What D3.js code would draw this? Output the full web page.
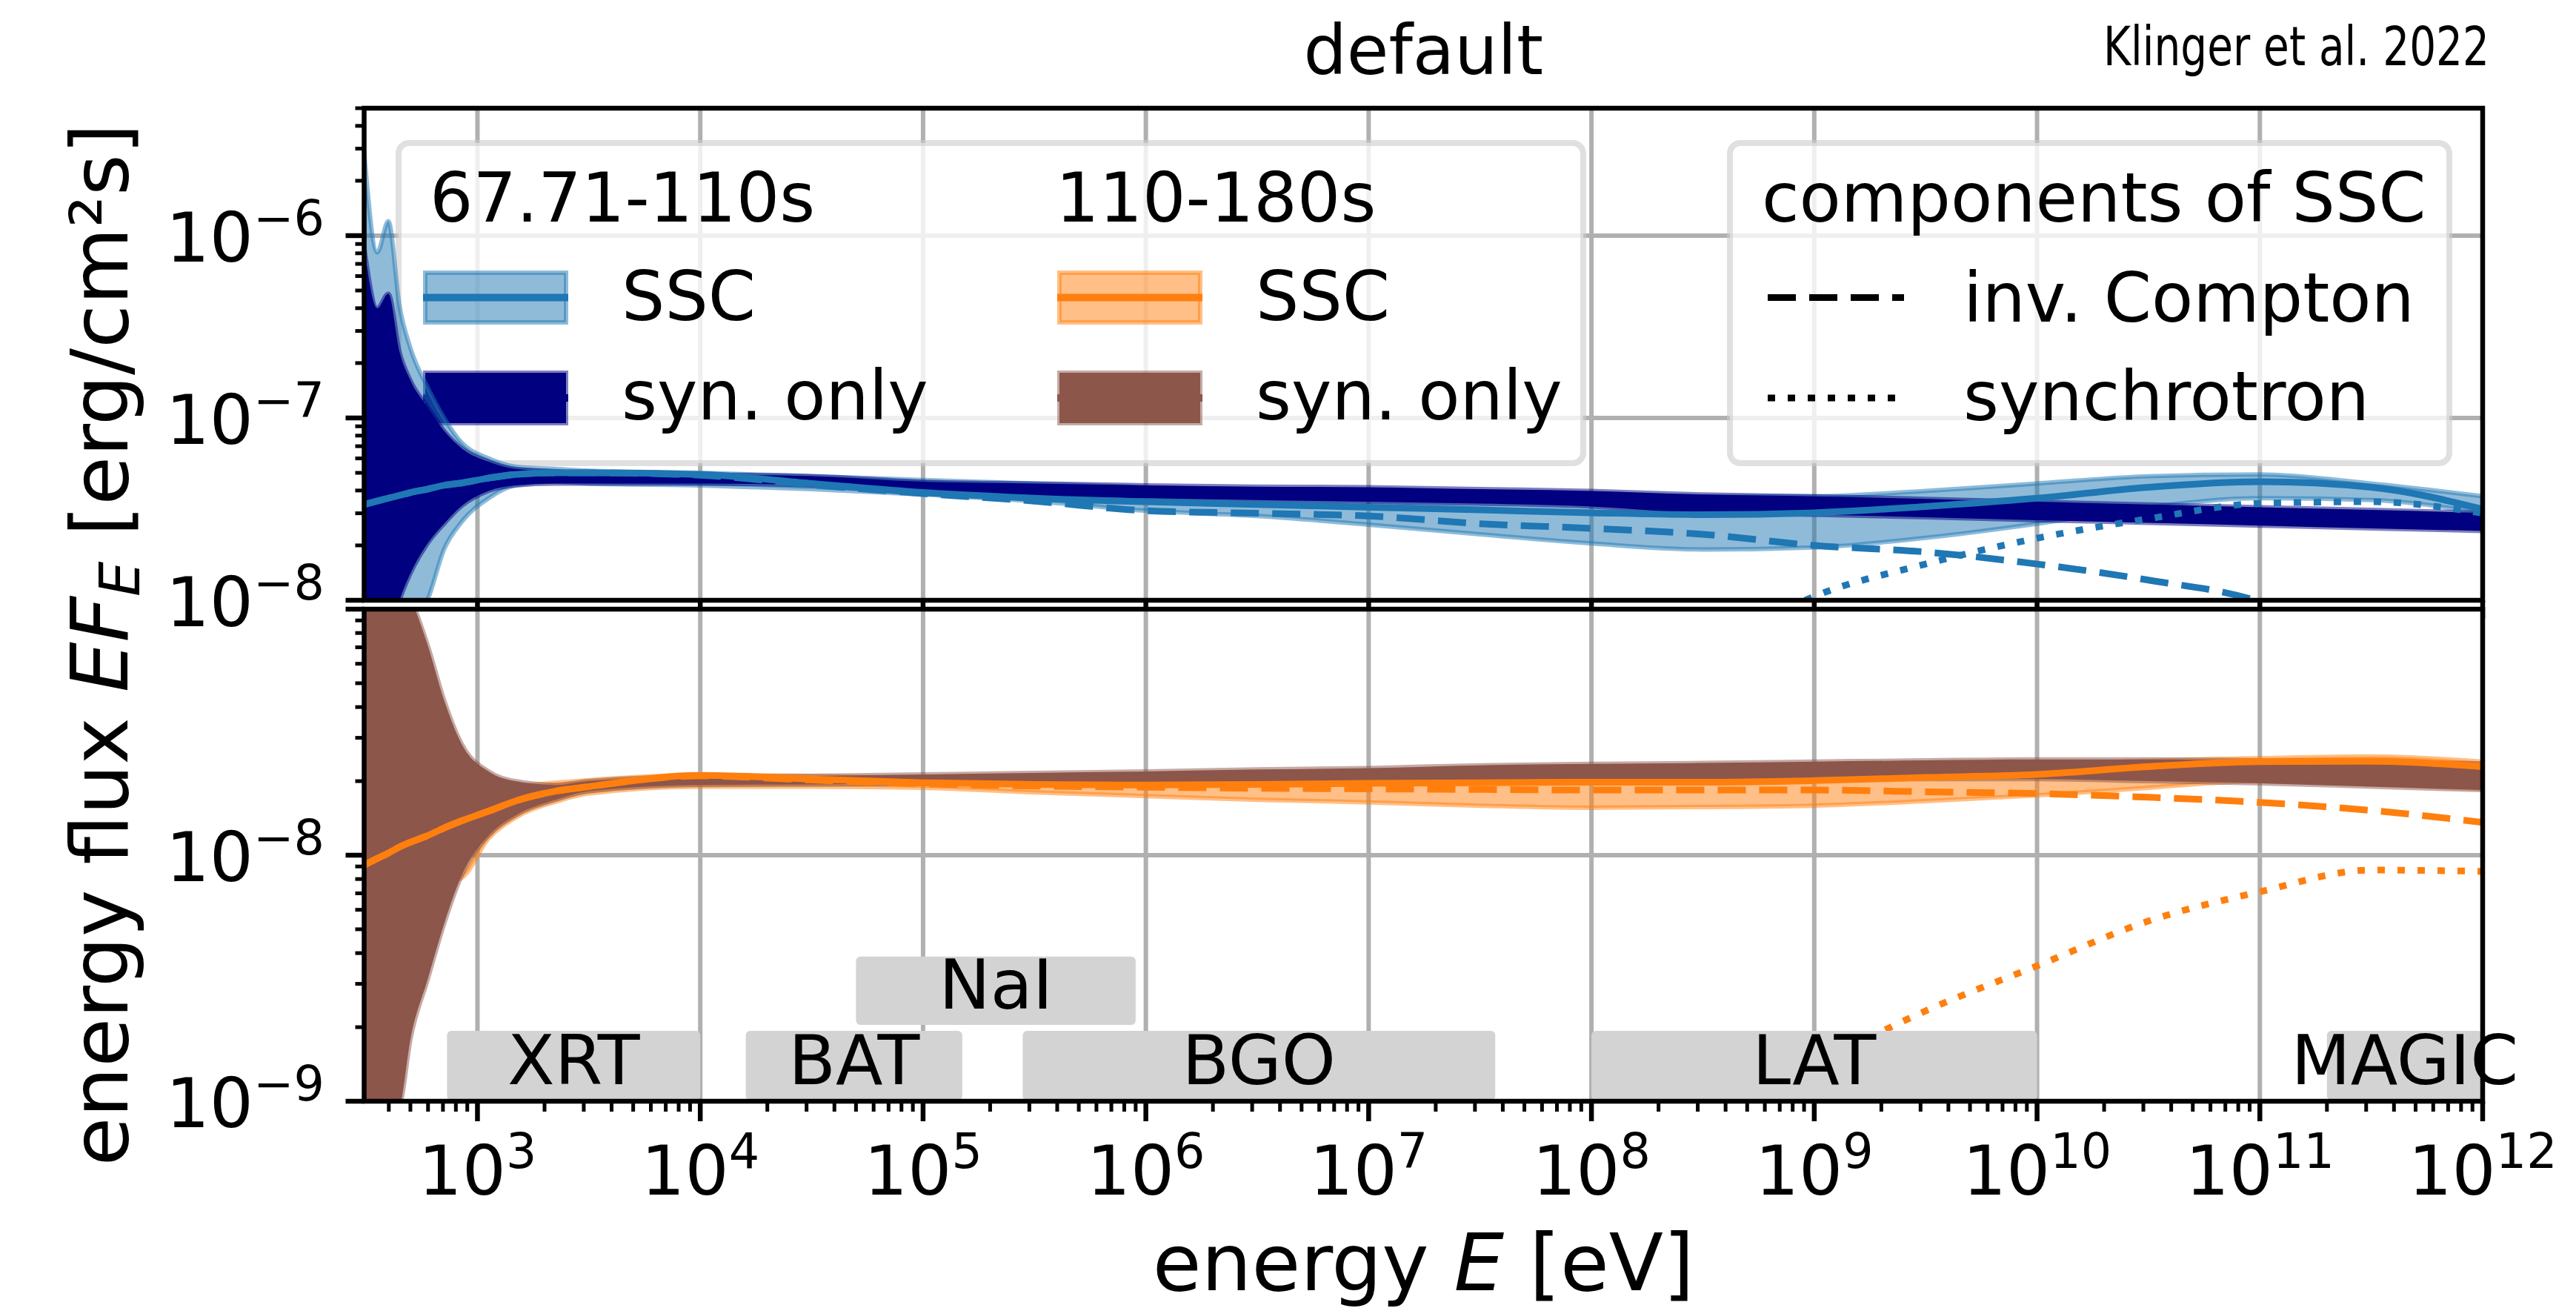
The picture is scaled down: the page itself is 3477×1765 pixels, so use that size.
<!DOCTYPE html>
<html>
<head>
<meta charset="utf-8">
<title>SSC vs synchrotron-only</title>
<script src="https://cdn.jsdelivr.net/npm/d3@7/dist/d3.min.js"></script>
<style>
    body { margin: 0; background: #fff; }
    svg { display: block; font-family: "DejaVu Sans", sans-serif; }
</style>
</head>
<body>
<svg id="chart" width="3477" height="1765"></svg>
<script>
"use strict";

// photon energy grid [eV]
const energy = [310, 355, 398, 447, 501, 596, 708, 851, 1122, 1479, 2239, 3162,
    1e4, 3.16e4, 1e5, 3.16e5, 1e6, 3.16e6, 1e7, 3.16e7, 1e8, 3.16e8,
    1e9, 3.16e9, 1e10, 3.16e10, 1e11, 3.16e11, 1e12];

// 67.71-110s, energy flux [erg/cm^2 s]
const sscA_hi = [2.85e-6, 8.1e-7, 1.2e-6, 4.1e-7, 2.4e-7, 1.48e-7, 1.0e-7, 7.3e-8, 6.0e-8, 5.4e-8, 5.25e-8, 5.13e-8,
    5.0e-8, 4.79e-8, 4.57e-8, 4.37e-8, 4.17e-8, 4.07e-8, 3.98e-8, 3.89e-8, 3.8e-8, 3.72e-8,
    3.72e-8, 3.98e-8, 4.37e-8, 4.79e-8, 4.9e-8, 4.37e-8, 3.72e-8];
const sscA_med = [3.35e-8, 3.5e-8, 3.63e-8, 3.76e-8, 3.9e-8, 4.07e-8, 4.27e-8, 4.4e-8, 4.68e-8, 4.9e-8, 5.0e-8, 5.0e-8,
    4.9e-8, 4.37e-8, 3.9e-8, 3.63e-8, 3.47e-8, 3.35e-8, 3.24e-8, 3.13e-8, 3.02e-8, 2.95e-8,
    3.02e-8, 3.27e-8, 3.63e-8, 4.17e-8, 4.47e-8, 4.17e-8, 3.16e-8];
const sscA_lo = [2e-9, 3e-9, 4e-9, 5.5e-9, 7.5e-9, 1.0e-8, 1.9e-8, 2.7e-8, 3.63e-8, 4.27e-8, 4.47e-8, 4.37e-8,
    4.27e-8, 4.07e-8, 3.8e-8, 3.5e-8, 3.1e-8, 2.9e-8, 2.6e-8, 2.3e-8, 2.05e-8, 1.9e-8,
    1.95e-8, 2.2e-8, 2.63e-8, 3.24e-8, 3.63e-8, 3.55e-8, 3.0e-8];
const synA_hi = [8.7e-7, 4.0e-7, 4.8e-7, 2.3e-7, 1.6e-7, 1.15e-7, 8.5e-8, 6.8e-8, 5.75e-8, 5.25e-8, 5.1e-8, 5.0e-8,
    4.9e-8, 4.8e-8, 4.47e-8, 4.37e-8, 4.27e-8, 4.2e-8, 4.17e-8, 4.07e-8, 3.98e-8, 3.8e-8,
    3.72e-8, 3.6e-8, 3.47e-8, 3.35e-8, 3.24e-8, 3.13e-8, 3.02e-8];
const synA_lo = [3e-9, 4e-9, 6e-9, 1.0e-8, 1.41e-8, 2.04e-8, 2.63e-8, 3.3e-8, 3.98e-8, 4.27e-8, 4.37e-8, 4.37e-8,
    4.37e-8, 4.27e-8, 3.85e-8, 3.72e-8, 3.63e-8, 3.55e-8, 3.47e-8, 3.39e-8, 3.27e-8, 3.0e-8,
    2.95e-8, 2.85e-8, 2.75e-8, 2.66e-8, 2.57e-8, 2.48e-8, 2.4e-8];
const icA = [3.35e-8, 3.5e-8, 3.63e-8, 3.76e-8, 3.9e-8, 4.07e-8, 4.27e-8, 4.4e-8, 4.68e-8, 4.9e-8, 5.0e-8, 5.0e-8,
    4.85e-8, 4.3e-8, 3.85e-8, 3.5e-8, 3.1e-8, 3.0e-8, 2.9e-8, 2.63e-8, 2.48e-8, 2.3e-8,
    2.0e-8, 1.84e-8, 1.58e-8, 1.29e-8, 9.8e-9, 5e-9, 2e-9];
const synchA = [null, null, null, null, null, null, null, null, null, null, null, null,
    null, null, null, null, null, null, null, null, 2.5e-9, 5e-9,
    1.05e-8, 1.58e-8, 2.19e-8, 2.8e-8, 3.4e-8, 3.47e-8, 3.0e-8];

// 110-180s
const sscB_hi = [1.3e-8, 1.35e-8, 1.4e-8, 1.45e-8, 1.5e-8, 1.57e-8, 1.65e-8, 1.72e-8, 1.82e-8, 1.9e-8, 1.97e-8, 2.02e-8,
    2.12e-8, 2.1e-8, 2.05e-8, 2.02e-8, 2.0e-8, 2.0e-8, 2.0e-8, 2.02e-8, 2.04e-8, 2.06e-8,
    2.1e-8, 2.2e-8, 2.3e-8, 2.42e-8, 2.48e-8, 2.52e-8, 2.4e-8];
const sscB_med = [9.1e-9, 9.7e-9, 1.02e-8, 1.08e-8, 1.13e-8, 1.2e-8, 1.29e-8, 1.38e-8, 1.51e-8, 1.66e-8, 1.82e-8, 1.9e-8,
    2.11e-8, 2.04e-8, 1.97e-8, 1.94e-8, 1.93e-8, 1.94e-8, 1.96e-8, 1.97e-8, 1.98e-8, 1.98e-8,
    2.01e-8, 2.07e-8, 2.13e-8, 2.29e-8, 2.4e-8, 2.41e-8, 2.29e-8];
const sscB_lo = [6e-9, 6.3e-9, 6.6e-9, 6.9e-9, 7.1e-9, 7.4e-9, 7.7e-9, 8.1e-9, 1.17e-8, 1.42e-8, 1.65e-8, 1.78e-8,
    1.9e-8, 1.9e-8, 1.88e-8, 1.8e-8, 1.74e-8, 1.68e-8, 1.64e-8, 1.59e-8, 1.56e-8, 1.57e-8,
    1.59e-8, 1.66e-8, 1.75e-8, 1.88e-8, 2.0e-8, 1.94e-8, 1.86e-8];
const synB_hi = [3e-7, 2.2e-7, 1.7e-7, 1.3e-7, 1.1e-7, 7.2e-8, 4.27e-8, 2.82e-8, 2.19e-8, 2.0e-8, 1.93e-8, 2.0e-8,
    2.09e-8, 2.1e-8, 2.13e-8, 2.16e-8, 2.19e-8, 2.23e-8, 2.26e-8, 2.32e-8, 2.35e-8, 2.37e-8,
    2.4e-8, 2.43e-8, 2.45e-8, 2.45e-8, 2.43e-8, 2.4e-8, 2.36e-8];
const synB_lo = [6e-10, 7e-10, 8.5e-10, 9.5e-10, 1.8e-9, 3.1e-9, 5.25e-9, 8.3e-9, 1.2e-8, 1.45e-8, 1.68e-8, 1.82e-8,
    1.93e-8, 1.94e-8, 1.95e-8, 1.96e-8, 1.97e-8, 1.98e-8, 2.0e-8, 2.02e-8, 2.04e-8, 2.04e-8,
    2.04e-8, 2.04e-8, 2.04e-8, 2.0e-8, 1.96e-8, 1.9e-8, 1.84e-8];
const icB = [9.1e-9, 9.7e-9, 1.02e-8, 1.08e-8, 1.13e-8, 1.2e-8, 1.29e-8, 1.38e-8, 1.51e-8, 1.66e-8, 1.82e-8, 1.9e-8,
    2.1e-8, 2.02e-8, 1.95e-8, 1.91e-8, 1.89e-8, 1.87e-8, 1.86e-8, 1.85e-8, 1.84e-8, 1.84e-8,
    1.84e-8, 1.81e-8, 1.78e-8, 1.72e-8, 1.64e-8, 1.52e-8, 1.36e-8];
const synchB = [null, null, null, null, null, null, null, null, null, null, null, null,
    null, null, null, null, null, null, null, null, 4e-10, 8.3e-10,
    1.4e-9, 2.33e-9, 3.55e-9, 5.4e-9, 7.1e-9, 8.7e-9, 8.6e-9];

// instrument energy ranges [eV]
const instruments = ['XRT', 'BAT', 'NaI', 'BGO', 'LAT', 'MAGIC'];
const instrument_lo = [730, 1.6e4, 5e4, 2.8e5, 1e8, 2e11];
const instrument_hi = [1e4, 1.5e5, 9e5, 3.7e7, 1e10, 1e12];
const instrument_row = [0, 0, 1, 0, 0, 0];

const x_domain = [310, 1e12];
const x_ticks = [1e3, 1e4, 1e5, 1e6, 1e7, 1e8, 1e9, 1e10, 1e11, 1e12];
const y_domains = [[1e-8, 5e-6], [1e-9, 1e-7]];
const y_labels = [[1e-8, 1e-7, 1e-6], [1e-9, 1e-8]];

// layout
const ax_left = 491.5, ax_right = 3351;
const panels = [{top: 146, bottom: 810}, {top: 822, bottom: 1486}];
const box_rows = [[0.002, 0.143], [0.155, 0.294]];
const C0 = '#1f77b4', C1 = '#ff7f0e', NAVY = '#000080', BROWN = '#8c564b';
const tick_font = 93, label_font = 107, legend_font = 92;

const svg = d3.select('#chart');
svg.append('rect').attr('width', 3477).attr('height', 1765).attr('fill', '#fff');

const x = d3.scaleLog().domain(x_domain).range([ax_left, ax_right]);
const idx = d3.range(energy.length);

function is_decade(v) {
    const l = Math.log10(v);
    return Math.abs(l - Math.round(l)) < 1e-9;
}

function power_label(text, v, size) {
    const e = Math.round(Math.log10(v));
    text.append('tspan').text('10');
    text.append('tspan')
        .attr('dy', -0.39 * size)
        .attr('font-size', 0.7 * size)
        .text((e < 0 ? '\u2212' : '') + Math.abs(e));
}

function draw_panel(k, s) {
    const p = panels[k];
    const y = d3.scaleLog().domain(y_domains[k]).range([p.bottom, p.top]);
    const g = svg.append('g');

    g.append('rect')
        .attr('x', ax_left).attr('y', p.top)
        .attr('width', ax_right - ax_left).attr('height', p.bottom - p.top)
        .attr('fill', '#fff');

    svg.append('clipPath').attr('id', 'clip' + k)
        .append('rect')
        .attr('x', ax_left).attr('y', p.top)
        .attr('width', ax_right - ax_left).attr('height', p.bottom - p.top);
    const grid = g.append('g').attr('clip-path', `url(#clip${k})`);

    // grid, below everything else
    const y_major = y.ticks().filter(is_decade);
    grid.selectAll('.gx').data(x_ticks).enter().append('line')
        .attr('x1', d => x(d)).attr('x2', d => x(d))
        .attr('y1', p.top).attr('y2', p.bottom)
        .attr('stroke', '#b0b0b0').attr('stroke-width', 6);
    grid.selectAll('.gy').data(y_major).enter().append('line')
        .attr('x1', ax_left).attr('x2', ax_right)
        .attr('y1', d => y(d)).attr('y2', d => y(d))
        .attr('stroke', '#b0b0b0').attr('stroke-width', 6);

    if (s.under) s.under(g);

    const plot = g.append('g').attr('clip-path', `url(#clip${k})`);

    const band = (lo, hi) => d3.area()
        .curve(d3.curveMonotoneX)
        .x(i => x(energy[i]))
        .y0(i => y(lo[i]))
        .y1(i => y(hi[i]))(idx);
    const line = v => d3.line()
        .defined(i => v[i] !== null)
        .curve(d3.curveMonotoneX)
        .x(i => x(energy[i]))
        .y(i => y(v[i]))(idx);

    plot.append('path').attr('d', band(s.ssc_lo, s.ssc_hi))
        .attr('fill', s.color).attr('fill-opacity', 0.5)
        .attr('stroke', s.color).attr('stroke-opacity', 0.5).attr('stroke-width', 6);
    plot.append('path').attr('d', band(s.syn_lo, s.syn_hi))
        .attr('fill', s.syn_color)
        .attr('stroke', s.syn_color).attr('stroke-opacity', 0.5).attr('stroke-width', 6);

    plot.append('path').attr('d', line(s.ssc_med))
        .attr('fill', 'none').attr('stroke', s.color).attr('stroke-width', 9);
    plot.append('path').attr('d', line(s.ic))
        .attr('fill', 'none').attr('stroke', s.color).attr('stroke-width', 9)
        .attr('stroke-dasharray', '38,18');
    plot.append('path').attr('d', line(s.synch))
        .attr('fill', 'none').attr('stroke', s.color).attr('stroke-width', 9)
        .attr('stroke-dasharray', '10,17');

    if (s.instruments) {
        const h = p.bottom - p.top;
        instruments.forEach((name, i) => {
            const r = box_rows[instrument_row[i]];
            const x0 = x(instrument_lo[i]), x1 = x(instrument_hi[i]);
            const y0 = p.bottom - r[1] * h, y1 = p.bottom - r[0] * h;
            plot.append('rect')
                .attr('x', x0).attr('y', y0)
                .attr('width', x1 - x0).attr('height', y1 - y0)
                .attr('rx', 6).attr('fill', '#d3d3d3');
            g.append('text')
                .attr('x', x(Math.sqrt(instrument_lo[i] * instrument_hi[i])))
                .attr('y', y1 - 22)
                .attr('text-anchor', 'middle')
                .attr('font-size', tick_font)
                .text(name);
        });
    }

    // frame
    g.append('rect')
        .attr('x', ax_left).attr('y', p.top)
        .attr('width', ax_right - ax_left).attr('height', p.bottom - p.top)
        .attr('fill', 'none').attr('stroke', '#000').attr('stroke-width', 6.5);

    // y ticks
    g.selectAll('.ty').data(y.ticks()).enter().append('line')
        .attr('x1', d => ax_left - (is_decade(d) ? 25 : 12)).attr('x2', ax_left)
        .attr('y1', d => y(d)).attr('y2', d => y(d))
        .attr('stroke', '#000').attr('stroke-width', d => is_decade(d) ? 6.5 : 5);
    y_labels[k].forEach(v => {
        const t = g.append('text')
            .attr('x', 438).attr('y', y(v) + 35)
            .attr('text-anchor', 'end')
            .attr('font-size', tick_font);
        power_label(t, v, tick_font);
    });

    // x ticks
    if (s.x_labels) {
        g.selectAll('.tx').data(x.ticks(20)).enter().append('line')
            .attr('x1', d => x(d)).attr('x2', d => x(d))
            .attr('y1', p.bottom).attr('y2', d => p.bottom + (is_decade(d) ? 27 : 14))
            .attr('stroke', '#000').attr('stroke-width', d => is_decade(d) ? 6.5 : 5);
        x_ticks.forEach(v => {
            const t = g.append('text')
                .attr('x', x(v)).attr('y', 1612)
                .attr('text-anchor', 'middle')
                .attr('font-size', tick_font);
            power_label(t, v, tick_font);
        });
    } else {
        g.selectAll('.tx').data(x_ticks).enter().append('line')
            .attr('x1', d => x(d)).attr('x2', d => x(d))
            .attr('y1', p.bottom).attr('y2', p.bottom + 25)
            .attr('stroke', '#000').attr('stroke-width', 6.5);
    }
}

function draw_legends(parent) {
    const g = parent.append('g').attr('font-size', legend_font);
    const frame = (x0, y0, w, h) => g.append('rect')
        .attr('x', x0).attr('y', y0).attr('width', w).attr('height', h).attr('rx', 14)
        .attr('fill', '#fff').attr('fill-opacity', 0.8)
        .attr('stroke', '#cccccc').attr('stroke-opacity', 0.6).attr('stroke-width', 8);
    frame(538, 193, 1599, 432);
    frame(2335, 193, 971, 432);

    const cols = [
        {x: 574, tx: 580, title: '67.71-110s', color: C0, syn: NAVY},
        {x: 1430, tx: 1425, title: '110-180s', color: C1, syn: BROWN}
    ];
    cols.forEach(c => {
        g.append('text').attr('x', c.tx).attr('y', 299).text(c.title);

        g.append('rect').attr('x', c.x).attr('y', 368).attr('width', 190).attr('height', 67)
            .attr('fill', c.color).attr('fill-opacity', 0.5)
            .attr('stroke', c.color).attr('stroke-opacity', 0.5).attr('stroke-width', 6);
        g.append('line').attr('x1', c.x - 3).attr('x2', c.x + 193)
            .attr('y1', 401.5).attr('y2', 401.5)
            .attr('stroke', c.color).attr('stroke-width', 10);
        g.append('text').attr('x', c.x + 265).attr('y', 432).text('SSC');

        g.append('rect').attr('x', c.x).attr('y', 503).attr('width', 190).attr('height', 68)
            .attr('fill', c.syn)
            .attr('stroke', c.syn).attr('stroke-opacity', 0.5).attr('stroke-width', 6);
        g.append('line').attr('x1', c.x - 3).attr('x2', c.x + 193)
            .attr('y1', 537).attr('y2', 537)
            .attr('stroke', c.syn).attr('stroke-width', 10);
        g.append('text').attr('x', c.x + 265).attr('y', 566).text('syn. only');
    });

    g.append('text').attr('x', 2378).attr('y', 299).text('components of SSC');
    g.append('line').attr('x1', 2386).attr('x2', 2570).attr('y1', 401.5).attr('y2', 401.5)
        .attr('stroke', '#000').attr('stroke-width', 9).attr('stroke-dasharray', '38,18');
    g.append('text').attr('x', 2650).attr('y', 434).text('inv. Compton');
    g.append('line').attr('x1', 2386).attr('x2', 2570).attr('y1', 537).attr('y2', 537)
        .attr('stroke', '#000').attr('stroke-width', 9).attr('stroke-dasharray', '10,17');
    g.append('text').attr('x', 2650).attr('y', 567).text('synchrotron');
}

draw_panel(0, {
    color: C0, syn_color: NAVY,
    ssc_lo: sscA_lo, ssc_hi: sscA_hi, ssc_med: sscA_med,
    syn_lo: synA_lo, syn_hi: synA_hi, ic: icA, synch: synchA,
    x_labels: false, instruments: false, under: draw_legends
});
draw_panel(1, {
    color: C1, syn_color: BROWN,
    ssc_lo: sscB_lo, ssc_hi: sscB_hi, ssc_med: sscB_med,
    syn_lo: synB_lo, syn_hi: synB_hi, ic: icB, synch: synchB,
    x_labels: true, instruments: true
});

// titles and axis labels
svg.append('text')
    .attr('x', (ax_left + ax_right) / 2).attr('y', 100)
    .attr('text-anchor', 'middle').attr('font-size', legend_font)
    .text('default');
svg.append('text')
    .attr('x', 3360).attr('y', 88)
    .attr('text-anchor', 'end').attr('font-size', 73)
    .attr('font-family', '"DejaVu Sans Condensed", "DejaVu Sans", sans-serif')
    .attr('textLength', 521).attr('lengthAdjust', 'spacingAndGlyphs')
    .text('Klinger et al. 2022');

const xl = svg.append('text')
    .attr('x', (ax_left + ax_right) / 2).attr('y', 1741)
    .attr('text-anchor', 'middle').attr('font-size', label_font);
xl.append('tspan').text('energy ');
xl.append('tspan').attr('font-style', 'italic').text('E');
xl.append('tspan').text(' [eV]');

const yl = svg.append('text')
    .attr('transform', 'translate(172,870) rotate(-90)')
    .attr('text-anchor', 'middle').attr('font-size', label_font);
yl.append('tspan').text('energy flux ');
yl.append('tspan').attr('font-style', 'italic').text('EF');
yl.append('tspan').attr('font-style', 'italic').attr('font-size', 0.7 * label_font).attr('dy', 16).text('E');
yl.append('tspan').attr('dy', -16).text(' [erg/cm\u00b2s]');
</script>
</body>
</html>
